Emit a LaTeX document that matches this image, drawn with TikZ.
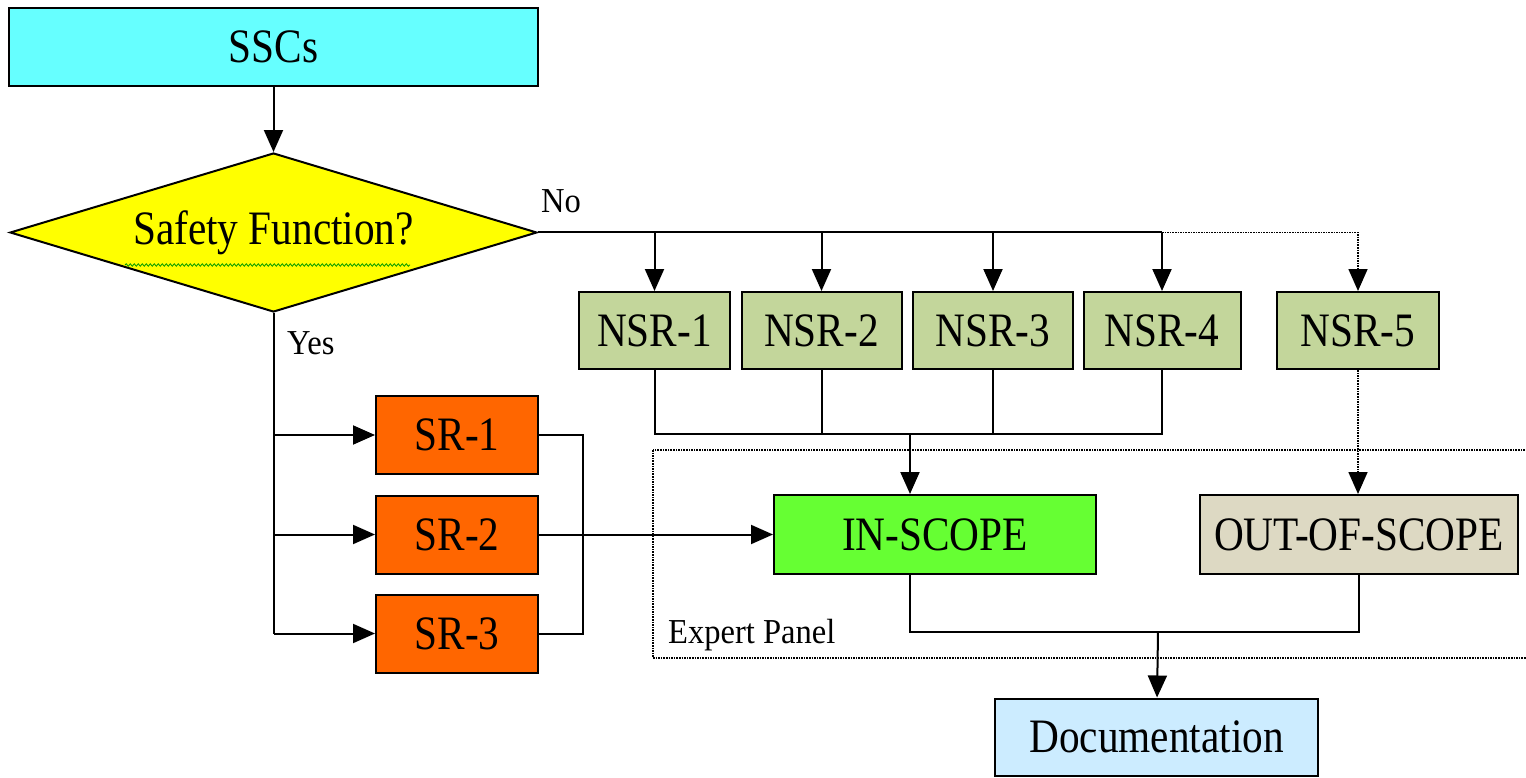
\documentclass[tikz,border=0pt]{standalone}
\usepackage{fontspec}
\setmainfont[FakeStretch=0.86]{Liberation Serif}
\newfontfamily\etiq[FakeStretch=0.93]{Liberation Serif}
\usetikzlibrary{shapes.geometric,arrows.meta,decorations.pathmorphing}

\definecolor{cian}{HTML}{66FFFF}
\definecolor{amarillo}{HTML}{FFFF00}
\definecolor{verdensr}{HTML}{C3D69B}
\definecolor{naranja}{HTML}{FF6600}
\definecolor{verdein}{HTML}{66FF33}
\definecolor{beige}{HTML}{DDD9C3}
\definecolor{celeste}{HTML}{CCECFF}

\tikzset{
	caja/.style={draw, line width=2pt, inner sep=0pt, font=\fontsize{48}{48}\selectfont},
	linea/.style={line width=2pt},
	flecha/.style={line width=2pt, -{Triangle[length=22pt,width=19pt]}},
	punteada/.style={line width=1.6pt, densely dotted},
	etiqueta/.style={inner sep=0pt, font=\etiq\fontsize{35}{35}\selectfont},
}

\begin{document}
\begin{tikzpicture}[x=1pt, y=-1pt]
		\useasboundingbox (0,0) rectangle (1526,778);
		%cajas
		\node[caja, fill=cian, minimum width=529, minimum height=78] at (273.5,47) (sscs) {SSCs};
		\node[caja, fill=amarillo, shape=diamond, aspect=3.3, minimum width=527, minimum height=159] at (273.5,232.5) (safety) {Safety Function?};
		\draw [green!60!black, line width=0.8pt, decorate, decoration={snake, amplitude=1.2pt, segment length=4pt}] (125,265) -- (410,265);

		%%%% NSR
		\node[caja, fill=verdensr, minimum width=151, minimum height=77] at (654.5,330.5) (nsr1) {NSR-1};
		\node[caja, fill=verdensr, minimum width=160, minimum height=77] at (821.5,330.5) (nsr2) {NSR-2};
		\node[caja, fill=verdensr, minimum width=160, minimum height=77] at (993,330.5) (nsr3) {NSR-3};
		\node[caja, fill=verdensr, minimum width=157, minimum height=77] at (1162,330.5) (nsr4) {NSR-4};
		\node[caja, fill=verdensr, minimum width=162, minimum height=77] at (1358,330.5) (nsr5) {NSR-5};

		%%%% SR
		\node[caja, fill=naranja, minimum width=162, minimum height=78] at (457,435) (sr1) {SR-1};
		\node[caja, fill=naranja, minimum width=162, minimum height=78] at (457,534.5) (sr2) {SR-2};
		\node[caja, fill=naranja, minimum width=162, minimum height=78] at (457,633.5) (sr3) {SR-3};

		\node[caja, fill=verdein, minimum width=322, minimum height=79] at (935,534.5) (inscope) {IN-SCOPE};
		\node[caja, fill=beige, minimum width=318, minimum height=79] at (1359,534.5) (outscope) {OUT-OF-SCOPE};
		\node[caja, fill=celeste, minimum width=323, minimum height=77] at (1156.5,737) (doc) {Documentation};

		%panel
		\draw [punteada] (653,450) rectangle (1540,658);
		\node[etiqueta, anchor=base west] at (668,643) (panel) {Expert Panel};
		\node[etiqueta, anchor=base west] at (541,213) (no) {No};
		\node[etiqueta, anchor=base west] at (287,354) (yes) {Yes};

		\coordinate (jn) at (910,434);
		\coordinate (jd) at (1158,632);

		%%%% flechas
		\draw [flecha] (sscs) -- (safety);
		\draw [linea] (safety.east) -- (safety.east -| nsr4);
		\draw [flecha] (safety.east -| nsr1) -- (nsr1);
		\draw [flecha] (safety.east -| nsr2) -- (nsr2);
		\draw [flecha] (safety.east -| nsr3) -- (nsr3);
		\draw [flecha] (safety.east -| nsr4) -- (nsr4);
		\draw [punteada, -{Triangle[length=22pt,width=19pt]}] (safety.east -| nsr4) -- (safety.east -| nsr5) -- (nsr5);

		\draw [linea] (nsr1) -- (nsr1 |- jn) -- (nsr4 |- jn) -- (nsr4);
		\draw [linea] (nsr2) -- (nsr2 |- jn);
		\draw [linea] (nsr3) -- (nsr3 |- jn);
		\draw [flecha] (jn) -- (jn |- inscope.north);
		\draw [punteada, -{Triangle[length=22pt,width=19pt]}] (nsr5) -- (nsr5 |- outscope.north);

		\draw [linea] (safety.south) -- (safety.south |- sr3);
		\draw [flecha] (safety.south |- sr1) -- (sr1);
		\draw [flecha] (safety.south |- sr2) -- (sr2);
		\draw [flecha] (safety.south |- sr3) -- (sr3);
		\draw [linea] (sr1.east) -- ++(44,0) |- (sr3.east);
		\draw [flecha] (sr2) -- (inscope);

		\draw [linea] (inscope.south -| jn) -- (jd -| jn) -- (jd -| outscope) -- (outscope);
		\draw [flecha] (jd) -- (doc);
\end{tikzpicture}
\end{document}
